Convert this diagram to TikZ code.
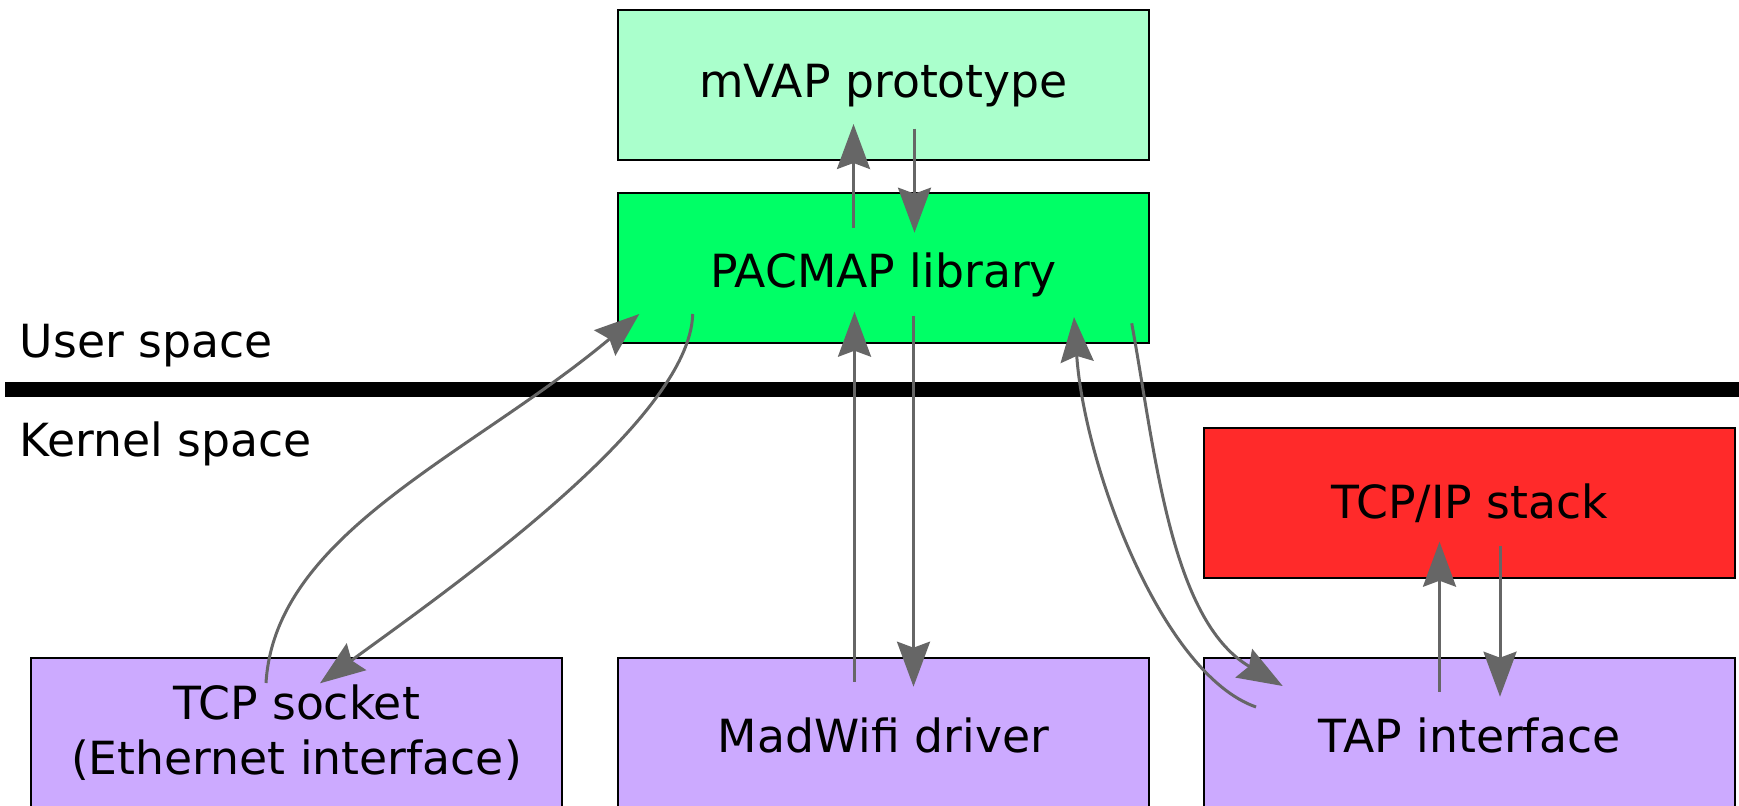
\documentclass[tikz,border=0pt]{standalone}
\usepackage{fontspec}
\setmainfont{DejaVu Sans}
\usetikzlibrary{arrows.meta}
\definecolor{protofill}{HTML}{AAFFCC}
\definecolor{libfill}{HTML}{00FF66}
\definecolor{stackfill}{HTML}{FF2A2A}
\definecolor{kernfill}{HTML}{CCAAFF}
\definecolor{linkgray}{HTML}{666666}
\begin{document}
\begin{tikzpicture}[x=0.5pt,y=-0.5pt,
  box/.style={draw=black, line width=1pt, minimum width=265.5pt, minimum height=75pt,
    inner sep=0pt, align=center, font=\fontsize{22.85pt}{27.5pt}\selectfont},
  lift/.style={text height=#1, text depth=0pt},
  link/.style={draw=linkgray, line width=1.5pt,
    -{Stealth[length=22.5pt,width=16.5pt,inset=3pt]}},
  side/.style={anchor=base west, inner sep=0pt, font=\fontsize{22.85pt}{27.5pt}\selectfont}]
\useasboundingbox (0,0) rectangle (1739,806);

% components
\node[box, fill=protofill, lift=12.7pt] (mvap)  at (883.5,85)   {mVAP prototype};
\node[box, fill=libfill,   lift=19.5pt] (pac)   at (883.5,268)  {PACMAP library};
\node[box, fill=stackfill, lift=15.6pt] (tcpip) at (1469.5,503) {TCP/IP stack};
\node[box, fill=kernfill]               (sock)  at (296.5,733)  {TCP socket\\(Ethernet interface)};
\node[box, fill=kernfill,  lift=19pt]   (mad)   at (883.5,733)  {MadWifi driver};
\node[box, fill=kernfill,  lift=19pt]   (tap)   at (1469.5,733) {TAP interface};

% user / kernel boundary
\node[side] (user) at (19.5,358) {User space};
\node[side] (kern) at (19.5,457) {Kernel space};
\coordinate (barL) at (5,389.7);
\coordinate (barR) at (1739,389.7);
\draw[line width=7.5pt] (barL) -- (barR);

% straight links
\draw[link] ([shift={(-30,-40)}]pac.center)    -- ([shift={(-30,39)}]mvap.center);
\draw[link] ([shift={(31,43.7)}]mvap.center)   -- ([shift={(31,-35.3)}]pac.center);
\draw[link] ([shift={(-29,-51.3)}]mad.center)  -- ([shift={(-29,43.7)}]pac.center);
\draw[link] ([shift={(30,48)}]pac.center)      -- ([shift={(30,-46.3)}]mad.center);
\draw[link] ([shift={(-30,-41.3)}]tap.center)  -- ([shift={(-30,38.7)}]tcpip.center);
\draw[link] ([shift={(30.5,43)}]tcpip.center)  -- ([shift={(30.5,-36.3)}]tap.center);

% curved links
\draw[link] ([shift={(-30.5,-50)}]sock.center)
  .. controls ([shift={(-21.5,-200)}]sock.center) and ([shift={(-412.5,187)}]pac.center)
  .. ([shift={(-244.2,46)}]pac.center);
\draw[link] ([shift={(-190.8,46)}]pac.center)
  .. controls ([shift={(-193.5,152)}]pac.center) and ([shift={(158.5,-148)}]sock.center)
  .. ([shift={(23.5,-49.7)}]sock.center);
\draw[link] ([shift={(-213.5,-26)}]tap.center)
  .. controls ([shift={(-307.5,-59)}]tap.center) and ([shift={(201,199)}]pac.center)
  .. ([shift={(190.5,49)}]pac.center);
\draw[link] ([shift={(248.2,55.3)}]pac.center)
  .. controls ([shift={(271.5,182)}]pac.center) and ([shift={(-299.5,-113)}]tap.center)
  .. ([shift={(-186.8,-47)}]tap.center);
\end{tikzpicture}
\end{document}
